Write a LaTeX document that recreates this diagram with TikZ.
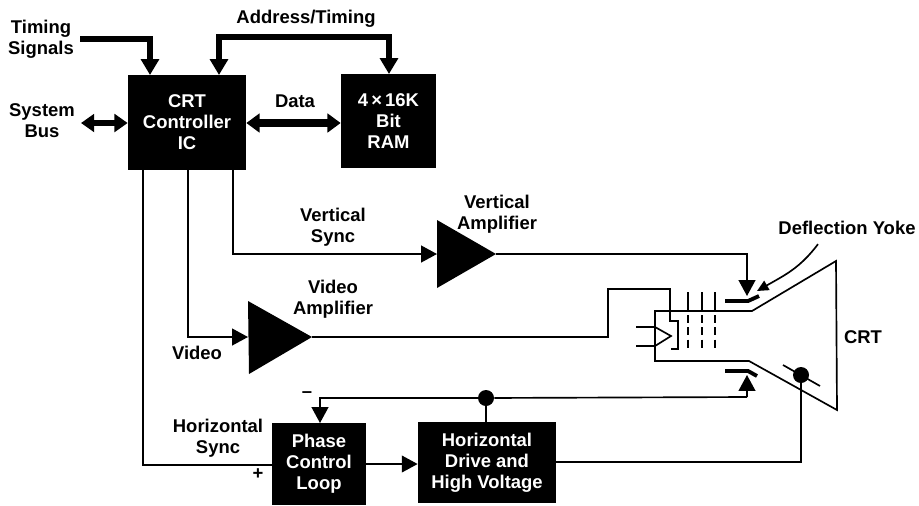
\documentclass[tikz,border=0pt]{standalone}
\usepackage{fontspec}
\setmainfont{Liberation Sans}
\usetikzlibrary{arrows.meta}

\begin{document}
\begin{tikzpicture}[x=0.02cm,y=-0.02cm,line join=miter]
            \tikzstyle{every node} = [font=\bfseries\fontsize{10.5}{12}\selectfont,align=center,inner sep=0pt];
            \tikzstyle{blockbox} = [fill=black,text=white];
            \tikzstyle{wire} = [line width=0.95pt];
            \tikzstyle{sigarrow} = [wire,-{Triangle[length=9pt,width=9.5pt]}];
            \tikzstyle{busarrow} = [line width=3.8pt,-{Triangle[length=9pt,width=10pt]}];
            \tikzstyle{dualarrow} = [line width=4pt,{Triangle[length=7.5pt,width=10.5pt]}-{Triangle[length=7.5pt,width=10.5pt]}];
            \tikzstyle{yokeplate} = [line width=2.2pt];
            \useasboundingbox (0,0) rectangle (919,505);
            % blocks
            \node[blockbox,minimum width=118*0.02cm,minimum height=95*0.02cm] (ctrl) at (187,122.5) {CRT\\Controller\\IC};
            \node[blockbox,minimum width=95*0.02cm,minimum height=94*0.02cm] (ram) at (388.5,121) {4\,×\,16K\\Bit\\RAM};
            \node[blockbox,minimum width=94*0.02cm,minimum height=82*0.02cm] (phase) at (319,464) {Phase\\Control\\Loop};
            \node[blockbox,minimum width=138*0.02cm,minimum height=81*0.02cm] (drive) at (487,462.5) {Horizontal\\Drive and\\High Voltage};
            % labels
            \node (timing) at (41,39.5) {Timing\\Signals};
            \node (addr) at (306,19) {Address/Timing};
            \node (bus) at (42,121) {System\\Bus};
            \node (data) at (295,101) {Data};
            \node (vsync) at (333,227) {Vertical\\Sync};
            \node (vamplabel) at (497,214) {Vertical\\Amplifier};
            \node (yamplabel) at (333,299) {Video\\Amplifier};
            \node (video) at (197,353) {Video};
            \node (hsync) at (218,438) {Horizontal\\Sync};
            \node (yoke) at (847,228) {Deflection Yoke};
            \node (crt) at (863,337) {CRT};
            \node (minus) at (307,395) {--};
            \node (plus) at (258,474) {+};
            % amplifiers
            \coordinate (vampin) at (437,254);
            \coordinate (vampout) at (496,254);
            \coordinate (yampin) at (248,337);
            \coordinate (yampout) at (312,337);
            \fill (437,220) -- (vampout) -- (437,288) -- cycle;
            \fill (248,301) -- (yampout) -- (249,374) -- cycle;
            % bus arrows
            \coordinate (timingin) at (80,39);
            \coordinate (timingend) at (150,75);
            \coordinate (addrleft) at (219,75);
            \coordinate (addrright) at (389,74);
            \coordinate (busend) at (81,123);
            \draw[busarrow] (timingin) -| (timingend);
            \draw[line width=3.8pt,{Triangle[length=9pt,width=10pt]}-{Triangle[length=9pt,width=10pt]}] (addrleft) -- (219,37) -| (addrright);
            \draw[line width=3pt,{Triangle[length=7.5pt,width=10pt]}-{Triangle[length=7.5pt,width=10pt]}] (busend) -- (ctrl.west |- busend);
            \draw[dualarrow] (ctrl.east |- busend) -- (ram.west |- busend);
            % signal lines
            \coordinate (hsyncout) at (143,170);
            \coordinate (videoout) at (188,170);
            \coordinate (vsyncout) at (233,170);
            \coordinate (phasein) at (272,465);
            \draw[sigarrow] (vsyncout) |- (vampin);
            \draw[sigarrow] (videoout) |- (yampin);
            \draw[wire] (hsyncout) |- (phasein);
            \draw[sigarrow] (phase.east |- 0,464) -- (drive.west |- 0,464);
            % deflection feedback
            \coordinate (topyoke) at (747,296);
            \coordinate (lowyoke) at (747,375);
            \coordinate (fbend) at (747,397);
            \coordinate (phasetop) at (320,423);
            \node[circle,fill=black,minimum size=16*0.02cm] (fbdot) at (486,398) {};
            \node[circle,fill=black,minimum size=16*0.02cm] (hvdot) at (801,375) {};
            \draw[sigarrow] (vampout) -| (topyoke);
            \draw[sigarrow] (fbend) -- (lowyoke);
            \draw[wire] (fbend) -- (fbdot);
            \draw[sigarrow] (fbdot) -- (320,398) -- (phasetop);
            \draw[wire] (fbdot) -- (fbdot |- drive.north);
            \draw[wire] (drive.east |- 0,462) -| (hvdot);
            \draw[wire] (783,365) -- (820,386);
            % tube
            \draw[wire] (655,311) -- (752,311) -- (836,261) -- (837,410) -- (749,361) -- (655,361) -- cycle;
            \draw[yokeplate] (725,301) -- (748,301) -- (759,296);
            \draw[yokeplate] (725,371) -- (748,371) -- (757,376);
            \draw[wire,-{Triangle[length=6.5pt,width=6pt]}] (yoke.south -| 818,0) ++(0,9) .. controls (800,268) and (785,275) .. (757,291);
            \draw[wire] (yampout) -- (608,337) -- (608,289) -- (670,289) -- (670,321) -- (678,321) -- (678,349) -- (671,349);
            \draw[wire] (636,327) -- (655,327) -- (671,336) -- (655,346) -- (636,346);
            % grids
            \foreach \gridx in {688,702,715} {
                \draw[wire] (\gridx,292) -- (\gridx,311);
                \draw[wire,dash pattern=on 4.5pt off 2.5pt] (\gridx,315) -- (\gridx,351);
            }
        \end{tikzpicture}
\end{document}
